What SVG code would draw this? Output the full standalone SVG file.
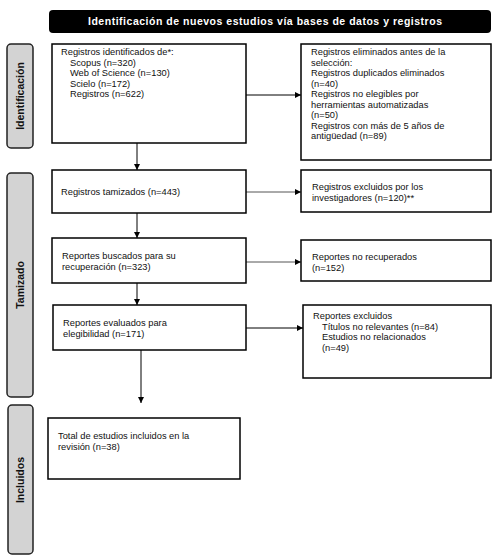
<svg xmlns="http://www.w3.org/2000/svg" width="498" height="558" viewBox="0 0 498 558">
<defs>
<marker id="ah" viewBox="0 0 8 8" refX="8" refY="4" markerWidth="6" markerHeight="6" markerUnits="userSpaceOnUse" orient="auto">
<path d="M0,0 L8,4 L0,8 z" fill="#000"/>
</marker>
<style>
.box{fill:#fff;stroke:#000;stroke-width:1.5}
.side{fill:#d3d3d3;stroke:#222;stroke-width:1.5}
.t{font-family:"Liberation Sans",Arial,sans-serif;font-size:9.3px;fill:#111}
.st{font-family:"Liberation Sans",Arial,sans-serif;font-size:10.5px;font-weight:bold;fill:#111}
.c{fill:none;stroke:#000;stroke-width:1}
.cg{fill:none;stroke:#555;stroke-width:1}
</style>
</defs>
<rect width="498" height="558" fill="#fff"/>
<g id="header">
<rect x="49" y="10" width="442" height="23" rx="4" fill="#000"/>
<text x="265" y="25" text-anchor="middle" font-family="'Liberation Sans',Arial,sans-serif" font-size="10.5" font-weight="bold" fill="#fff" textLength="354" lengthAdjust="spacing">Identificación de nuevos estudios vía bases de datos y registros</text>
</g>
<g id="side-identificacion">
<rect class="side" x="7" y="44" width="26" height="104" rx="4"/>
<text class="st" transform="translate(24,96) rotate(-90)" text-anchor="middle">Identificación</text>
</g>
<g id="side-tamizado">
<rect class="side" x="7" y="173" width="26" height="224" rx="4"/>
<text class="st" transform="translate(24,285) rotate(-90)" text-anchor="middle">Tamizado</text>
</g>
<g id="side-incluidos">
<rect class="side" x="8" y="405" width="25" height="149" rx="4"/>
<text class="st" transform="translate(24,480) rotate(-90)" text-anchor="middle">Incluidos</text>
</g>
<g id="connectors">
<line class="c" x1="246" y1="95" x2="301" y2="95" marker-end="url(#ah)"/>
<line class="c" x1="137" y1="143" x2="137" y2="170" marker-end="url(#ah)"/>
<line class="cg" x1="246" y1="192" x2="301" y2="192" marker-end="url(#ah)"/>
<line class="c" x1="137" y1="213" x2="137" y2="238" marker-end="url(#ah)"/>
<line class="cg" x1="246" y1="262" x2="301" y2="262" marker-end="url(#ah)"/>
<line class="c" x1="137" y1="283" x2="137" y2="305" marker-end="url(#ah)"/>
<line class="c" x1="246" y1="328" x2="303" y2="328" marker-end="url(#ah)"/>
<line class="c" x1="141" y1="350" x2="141" y2="403" marker-end="url(#ah)"/>
</g>
<g id="n-identificados">
<rect class="box" x="52" y="44" width="194" height="99"/>
<text class="t" x="61" y="55">Registros identificados de*:</text>
<text class="t" x="70" y="65.5">Scopus (n=320)</text>
<text class="t" x="70" y="76">Web of Science (n=130)</text>
<text class="t" x="70" y="86.5">Scielo (n=172)</text>
<text class="t" x="70" y="97">Registros (n=622)</text>
</g>
<g id="n-eliminados">
<rect class="box" x="301" y="44" width="190" height="116"/>
<text class="t" x="311" y="55">Registros eliminados antes de la</text>
<text class="t" x="311" y="65.5">selección:</text>
<text class="t" x="311" y="76">Registros duplicados eliminados</text>
<text class="t" x="311" y="86.5">(n=40)</text>
<text class="t" x="311" y="97">Registros no elegibles por</text>
<text class="t" x="311" y="107.5">herramientas automatizadas</text>
<text class="t" x="311" y="118">(n=50)</text>
<text class="t" x="311" y="128.5">Registros con más de 5 años de</text>
<text class="t" x="311" y="139">antigüedad (n=89)</text>
</g>
<g id="n-tamizados">
<rect class="box" x="52" y="170" width="194" height="43"/>
<text class="t" x="61" y="195">Registros tamizados (n=443)</text>
</g>
<g id="n-excluidos-inv">
<rect class="box" x="301" y="170" width="190" height="42"/>
<text class="t" x="312" y="190">Registros excluidos por los</text>
<text class="t" x="312" y="200.5">investigadores (n=120)**</text>
</g>
<g id="n-buscados">
<rect class="box" x="52" y="238" width="194" height="45"/>
<text class="t" x="62" y="259">Reportes buscados para su</text>
<text class="t" x="62" y="269.5">recuperación (n=323)</text>
</g>
<g id="n-no-recuperados">
<rect class="box" x="301" y="240" width="190" height="41"/>
<text class="t" x="312" y="260">Reportes no recuperados</text>
<text class="t" x="312" y="270.5">(n=152)</text>
</g>
<g id="n-evaluados">
<rect class="box" x="53" y="305" width="193" height="45"/>
<text class="t" x="63" y="326">Reportes evaluados para</text>
<text class="t" x="63" y="336.5">elegibilidad (n=171)</text>
</g>
<g id="n-reportes-excluidos">
<rect class="box" x="303" y="305" width="188" height="73"/>
<text class="t" x="313" y="319">Reportes excluidos</text>
<text class="t" x="322" y="329.5">Títulos no relevantes (n=84)</text>
<text class="t" x="322" y="340">Estudios no relacionados</text>
<text class="t" x="322" y="350.5">(n=49)</text>
</g>
<g id="n-incluidos">
<rect class="box" x="48" y="418" width="192" height="61"/>
<text class="t" x="58" y="439">Total de estudios incluidos en la</text>
<text class="t" x="58" y="449.5">revisión (n=38)</text>
</g>
</svg>
